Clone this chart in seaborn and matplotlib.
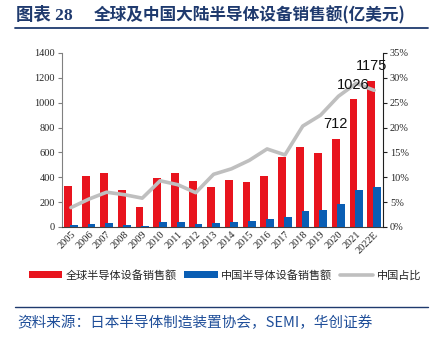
import matplotlib
matplotlib.use("Agg")
import matplotlib.pyplot as plt
import seaborn as sns
import pandas as pd
import numpy as np
from matplotlib.ticker import FuncFormatter, MultipleLocator, FixedLocator
from matplotlib.lines import Line2D
from matplotlib.patches import Patch

years = ["2005", "2006", "2007", "2008", "2009", "2010", "2011", "2012", "2013",
         "2014", "2015", "2016", "2017", "2018", "2019", "2020", "2021", "2022E"]
global_sales = [333, 412, 434, 296, 159, 395, 435, 370, 318, 375, 365, 412, 566, 645, 598, 712, 1026, 1175]
china_sales = [13, 23, 30, 19, 9, 37, 37, 25, 34, 44, 49, 65, 82, 131, 135, 187, 296, 323]
china_share = [3.9, 5.6, 7.0, 6.5, 5.8, 9.3, 8.5, 6.9, 10.6, 11.7, 13.4, 15.7, 14.5, 20.3, 22.5, 26.3, 28.9, 27.5]
labeled_years = ["2020", "2021", "2022E"]

s_global = "全球半导体设备销售额"
s_china = "中国半导体设备销售额"
s_share = "中国占比"

sns.set_style("white")
plt.rcParams['font.family'] = ['Liberation Serif', 'Noto Sans CJK SC', 'DejaVu Sans']

red = "#E8141E"
blue = "#0A5EB4"
gray = "#BFBFBF"
navy = "#1F3A6E"

df = pd.DataFrame({
    "year": years * 2,
    "value": global_sales + china_sales,
    "series": [s_global] * len(years) + [s_china] * len(years),
})

fig = plt.figure(figsize=(4.41, 3.38), dpi=100)
ax = fig.add_axes([62 / 441, 1 - 227 / 338, (383 - 62) / 441, (227 - 53) / 338])

sns.barplot(data=df, x="year", y="value", hue="series", order=years,
            hue_order=[s_global, s_china], palette=[red, blue],
            dodge=True, width=0.6, ax=ax, legend=False, saturation=1)

# adjust bars: slight overlap like the reference
bw = 0.44
blue_rgb = tuple(np.round(matplotlib.colors.to_rgb(blue), 3))
for p in ax.patches:
    cx = p.get_x() + p.get_width() / 2
    p.set_width(bw)
    p.set_x(cx - bw / 2)
    p.set_linewidth(0)
    if tuple(np.round(p.get_facecolor()[:3], 3)) == blue_rgb:
        p.set_zorder(3)
    else:
        p.set_zorder(2)

ax.set_xlim(-0.5, len(years) - 0.5)
ax.set_ylim(0, 1400)
ax.yaxis.set_major_locator(MultipleLocator(200))
ax.set_xlabel("")
ax.set_ylabel("")
ax.tick_params(axis='y', direction='out', length=3, width=0.8, labelsize=7.5, pad=2, color="#808080")
ax.tick_params(axis='x', which='major', length=0, labelsize=7.5, pad=2)
ax.xaxis.set_minor_locator(FixedLocator(np.arange(-0.5, len(years), 1.0)))
ax.tick_params(axis='x', which='minor', direction='out', length=3, width=0.8, color="#404040")
for lbl in ax.get_xticklabels():
    lbl.set_rotation(45)
    lbl.set_ha('right')
    lbl.set_rotation_mode('anchor')

for side in ["top", "right"]:
    ax.spines[side].set_visible(False)
ax.spines["left"].set_color("#808080")
ax.spines["bottom"].set_color("#404040")
ax.spines["left"].set_linewidth(0.8)
ax.spines["bottom"].set_linewidth(0.8)

ax2 = ax.twinx()
ax2.set_position(ax.get_position())
line_df = pd.DataFrame({"x": np.arange(len(years)), "share": china_share})
sns.lineplot(data=line_df, x="x", y="share", ax=ax2, color=gray, linewidth=2.6, legend=False)
ax2.set_ylim(0, 35)
ax2.yaxis.set_major_locator(MultipleLocator(5))
ax2.yaxis.set_major_formatter(FuncFormatter(lambda v, p: f"{v:.0f}%"))
ax2.set_ylabel("")
ax2.set_xlabel("")
ax2.set_xlim(-0.5, len(years) - 0.5)
ax2.tick_params(axis='y', direction='out', length=3, width=0.8, labelsize=7.5, pad=2, color="#202020")
for side in ["top", "left", "bottom"]:
    ax2.spines[side].set_visible(False)
ax2.spines["right"].set_color("#202020")
ax2.spines["right"].set_linewidth(0.8)
ax2.grid(False)
ax.grid(False)

# value labels (drawn above the share line)
for y_lbl in labeled_years:
    i = years.index(y_lbl)
    ax2.annotate(str(global_sales[i]), xy=(i - 0.15, global_sales[i] + 62), xycoords=ax.transData,
                 ha='center', va='bottom', fontsize=10.5, family=['Liberation Sans'],
                 color="#111111", zorder=6, annotation_clip=False)

# legend
handles = [Patch(facecolor=red, edgecolor='none'),
           Patch(facecolor=blue, edgecolor='none'),
           Line2D([0], [0], color=gray, lw=2.6)]
leg = fig.legend(handles, [s_global, s_china, s_share], loc='center', bbox_to_anchor=(0.51, 1 - 275 / 338),
                 ncol=3, frameon=False, handlelength=3.0, handleheight=0.6, handletextpad=0.3,
                 columnspacing=0.7, prop={'family': ['Noto Sans CJK SC'], 'size': 8})

# title and rules
fig.text(16 / 441, 1 - 15 / 338, "图表 28", fontsize=12.5, fontweight='bold', color=navy,
         family=['Liberation Serif', 'Noto Sans CJK SC'], va='center', ha='left')
fig.text(94 / 441, 1 - 15 / 338, "全球及中国大陆半导体设备销售额(亿美元)", fontsize=12, fontweight='bold',
         color=navy, family=['Noto Sans CJK SC'], va='center', ha='left')
fig.add_artist(Line2D([15 / 441, 428 / 441], [1 - 28 / 338, 1 - 28 / 338], color=navy, lw=1.3))
fig.add_artist(Line2D([15 / 441, 428 / 441], [1 - 307 / 338, 1 - 307 / 338], color=navy, lw=1.0))
fig.text(17 / 441, 1 - 323 / 338, "资料来源：日本半导体制造装置协会，SEMI，华创证券", fontsize=10.5,
         style='italic', color="#1F4E99", family=['Noto Sans CJK SC', 'Liberation Serif'], va='center', ha='left')

fig.savefig("out.png", dpi=100)
